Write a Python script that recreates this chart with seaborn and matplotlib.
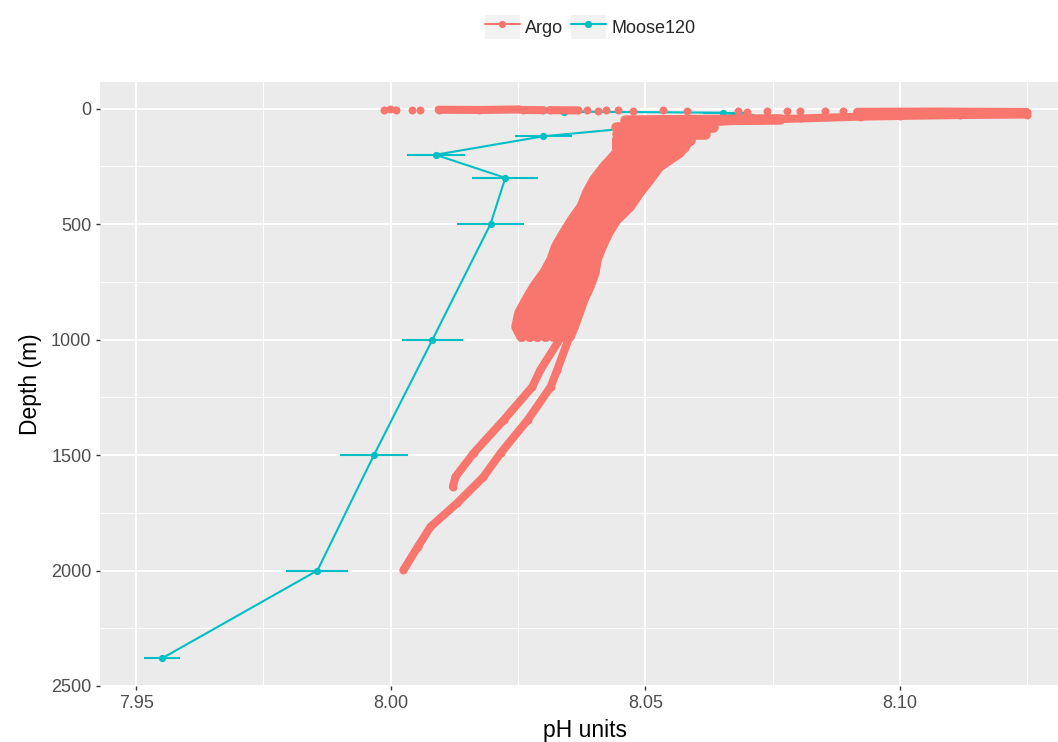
import numpy as np
import pandas as pd
import matplotlib
matplotlib.use("Agg")
import matplotlib.pyplot as plt
import seaborn as sns
from matplotlib.patches import Rectangle
from matplotlib.lines import Line2D
from matplotlib.legend_handler import HandlerTuple
from matplotlib.ticker import FixedLocator

ARGO_COLOR = "#F8766D"
MOOSE_COLOR = "#00BFC4"

# ---------------- Moose120 profile (mean +/- error) ----------------
moose_depth = [13, 18, 35, 120, 200, 300, 500, 1000, 1500, 2000, 2380]
moose_ph = [8.0340, 8.0653, 8.0710, 8.0300, 8.0088, 8.0225, 8.0196,
            8.0082, 7.9967, 7.9856, 7.9551]
moose_err = [0.004, 0.004, 0.004, 0.0056, 0.0057, 0.0065, 0.0065,
             0.0060, 0.0067, 0.0061, 0.0035]

# ---------------- Argo: isolated near-surface points ----------------
argo_dot_ph = [7.9986, 7.9998, 8.0010, 8.0041, 8.0057, 8.0386, 8.0408,
               8.0422, 8.0447, 8.0475, 8.0535, 8.0582, 8.0682, 8.0700,
               8.0739, 8.0778, 8.0804, 8.0853, 8.0888]
argo_dot_depth = [5, 4, 5, 6, 5, 8, 9, 7, 8, 9, 8, 9, 12, 13, 12, 11, 12, 11, 12]

# ---------------- Argo: near-surface runs of points ----------------
argo_t1_ph = [8.0094, 8.0173, 8.0251]
argo_t1_depth = [5, 6, 4]
argo_t2_ph = [8.0259, 8.0300]
argo_t2_depth = [6, 7]
argo_t3_ph = [8.0312, 8.0367]
argo_t3_depth = [7, 8]
argo_b1_ph = [8.0916, 8.1078, 8.1249]
argo_b1_depth = [14, 13, 15]
argo_b2_ph = [8.1249, 8.1118, 8.1000, 8.0922, 8.0804, 8.0725, 8.0647, 8.0608]
argo_b2_depth = [26, 28, 32, 35, 43, 48, 56, 65]
argo_r1_ph = [8.0461, 8.0608, 8.0765]
argo_r1_depth = [52, 50, 47]
argo_r2_ph = [8.0443, 8.0633]
argo_r2_depth = [78, 78]
argo_r3_ph = [8.0445, 8.0618]
argo_r3_depth = [108, 108]
argo_r4_ph = [8.0445, 8.0588]
argo_r4_depth = [138, 138]
argo_r5_ph = [8.0445, 8.0575]
argo_r5_depth = [165, 165]

# ---------------- Argo: main band of profiles ----------------
band_depth = [134, 191, 251, 308, 364, 425, 481, 537, 598, 654, 711, 771,
              828, 884, 945, 988]
argo_p1_ph = [8.0445, 8.0445, 8.0420, 8.0400, 8.0386, 8.0375, 8.0357, 8.0341,
              8.0325, 8.0316, 8.0302, 8.0282, 8.0267, 8.0253, 8.0247, 8.0257]
argo_p2_ph = [8.0469, 8.0465, 8.0437, 8.0418, 8.0404, 8.0390, 8.0371, 8.0355,
              8.0340, 8.0330, 8.0318, 8.0300, 8.0285, 8.0273, 8.0266, 8.0273]
argo_p3_ph = [8.0492, 8.0486, 8.0455, 8.0435, 8.0420, 8.0406, 8.0386, 8.0371,
              8.0355, 8.0345, 8.0335, 8.0318, 8.0304, 8.0292, 8.0284, 8.0288]
argo_p4_ph = [8.0517, 8.0506, 8.0474, 8.0454, 8.0437, 8.0422, 8.0400, 8.0384,
              8.0370, 8.0360, 8.0351, 8.0336, 8.0323, 8.0311, 8.0303, 8.0304]
argo_p5_ph = [8.0541, 8.0525, 8.0492, 8.0473, 8.0455, 8.0437, 8.0414, 8.0398,
              8.0384, 8.0375, 8.0367, 8.0355, 8.0341, 8.0329, 8.0322, 8.0320]
argo_p6_ph = [8.0565, 8.0547, 8.0510, 8.0490, 8.0471, 8.0453, 8.0429, 8.0414,
              8.0399, 8.0389, 8.0384, 8.0373, 8.0360, 8.0349, 8.0340, 8.0335]
argo_p7_ph = [8.0588, 8.0567, 8.0527, 8.0508, 8.0488, 8.0469, 8.0443, 8.0427,
              8.0414, 8.0404, 8.0400, 8.0390, 8.0378, 8.0369, 8.0359, 8.0351]

# ---------------- Argo: two deep profiles ----------------
argo_left_ph = [8.0335, 8.0294, 8.0278, 8.0222, 8.0163, 8.0127, 8.0122]
argo_left_depth = [988, 1131, 1205, 1348, 1491, 1595, 1638]
argo_right_ph = [8.0351, 8.0327, 8.0314, 8.0269, 8.0216, 8.0182, 8.0131,
                 8.0078, 8.0053, 8.0025]
argo_right_depth = [988, 1131, 1205, 1348, 1491, 1595, 1707, 1811, 1898, 1998]

x_ticks = [7.95, 8.00, 8.05, 8.10]
x_minor = [7.975, 8.025, 8.075, 8.125]
y_ticks = [0, 500, 1000, 1500, 2000, 2500]
y_minor = [250, 750, 1250, 1750, 2250]
series_labels = ["Argo", "Moose120"]

# ---------------- build tables ----------------
thin_segments = {
    "t1": (argo_t1_ph, argo_t1_depth), "t2": (argo_t2_ph, argo_t2_depth),
    "t3": (argo_t3_ph, argo_t3_depth), "b1": (argo_b1_ph, argo_b1_depth),
    "b2": (argo_b2_ph, argo_b2_depth),
    "left": (argo_left_ph, argo_left_depth),
    "right": (argo_right_ph, argo_right_depth),
}
thick_segments = {
    "r1": (argo_r1_ph, argo_r1_depth), "r2": (argo_r2_ph, argo_r2_depth),
    "r3": (argo_r3_ph, argo_r3_depth), "r4": (argo_r4_ph, argo_r4_depth),
    "r5": (argo_r5_ph, argo_r5_depth),
    "p1": (argo_p1_ph, band_depth), "p2": (argo_p2_ph, band_depth),
    "p3": (argo_p3_ph, band_depth), "p4": (argo_p4_ph, band_depth),
    "p5": (argo_p5_ph, band_depth), "p6": (argo_p6_ph, band_depth),
    "p7": (argo_p7_ph, band_depth),
}


def to_frame(segs):
    rows = []
    for name, (phs, dps) in segs.items():
        for p, d in zip(phs, dps):
            rows.append({"seg": name, "pH": p, "depth": d})
    return pd.DataFrame(rows)


argo_thin = to_frame(thin_segments)
argo_thick = to_frame(thick_segments)
argo_points = pd.concat([argo_thin[["pH", "depth"]], argo_thick[["pH", "depth"]],
                         pd.DataFrame({"pH": argo_dot_ph, "depth": argo_dot_depth})],
                        ignore_index=True)
moose_df = pd.DataFrame({"pH": moose_ph, "depth": moose_depth, "err": moose_err})

# ---------------- style ----------------
sns.set_theme(style="darkgrid", rc={
    "axes.facecolor": "#EBEBEB",
    "figure.facecolor": "white",
    "grid.color": "white",
})
plt.rcParams["font.family"] = ["Liberation Sans", "DejaVu Sans"]

fig = plt.figure(figsize=(10.58, 7.42), dpi=100)
ax = fig.add_axes([100 / 1058, 1 - 686 / 742, 971 / 1058, 604 / 742])

# Moose120 (drawn below Argo)
ax.errorbar(moose_df["pH"], moose_df["depth"], xerr=moose_df["err"], fmt="none",
            ecolor=MOOSE_COLOR, elinewidth=1.5, capsize=0, zorder=2)
sns.lineplot(data=moose_df, x="pH", y="depth", sort=False, estimator=None,
             color=MOOSE_COLOR, linewidth=1.5, marker="o", markersize=5.2,
             markeredgewidth=0, ax=ax, zorder=3, legend=False)

# Argo
sns.lineplot(data=argo_thin, x="pH", y="depth", units="seg", estimator=None,
             sort=False, color=ARGO_COLOR, linewidth=5.8, solid_capstyle="round",
             solid_joinstyle="round", ax=ax, zorder=4, legend=False)
sns.lineplot(data=argo_thick, x="pH", y="depth", units="seg", estimator=None,
             sort=False, color=ARGO_COLOR, linewidth=7.6, solid_capstyle="round",
             solid_joinstyle="round", ax=ax, zorder=4, legend=False)
sns.scatterplot(data=argo_points, x="pH", y="depth", color=ARGO_COLOR, s=33,
                linewidth=0, ax=ax, zorder=5, legend=False)

ax.set_xlim(7.9429, 8.1336)
ax.set_ylim(2499, -115)

ax.set_xticks(x_ticks)
ax.set_xticklabels([f"{v:.2f}" for v in x_ticks])
ax.set_yticks(y_ticks)
ax.set_yticklabels([str(v) for v in y_ticks])
ax.xaxis.set_minor_locator(FixedLocator(x_minor))
ax.yaxis.set_minor_locator(FixedLocator(y_minor))
ax.grid(which="major", color="white", linewidth=1.5)
ax.grid(which="minor", color="white", linewidth=0.75)
ax.tick_params(which="major", bottom=True, left=True, direction="out",
               length=3.2, width=1.0, color="#333333", labelcolor="#4D4D4D",
               labelsize=13, pad=3)
ax.tick_params(which="minor", length=0)
for s in ax.spines.values():
    s.set_visible(False)

ax.set_xlabel("pH units", fontsize=16.5, color="black", va="center")
ax.xaxis.set_label_coords(0.4995, (686 - 731) / 604)
ax.set_ylabel("Depth (m)", fontsize=16.5, color="black", va="center")
ax.yaxis.set_label_coords((30 - 100) / 971, 0.5)

# legend with grey key boxes
handles = []
for col in (ARGO_COLOR, MOOSE_COLOR):
    box = Rectangle((0, 0), 1, 1, facecolor="#F2F2F2", edgecolor="none")
    ln = Line2D([0], [0], color=col, linewidth=1.5, marker="o", markersize=5.2,
                markeredgewidth=0)
    handles.append((box, ln))
fig.legend(handles, series_labels, handler_map={tuple: HandlerTuple(ndivide=1, pad=0)},
           loc="center", bbox_to_anchor=(590 / 1058, 1 - 27 / 742), ncol=2,
           frameon=False, fontsize=13, handlelength=1.95, handleheight=1.6,
           handletextpad=0.3, columnspacing=0.4, borderaxespad=0)

fig.savefig("out.png", dpi=100)
